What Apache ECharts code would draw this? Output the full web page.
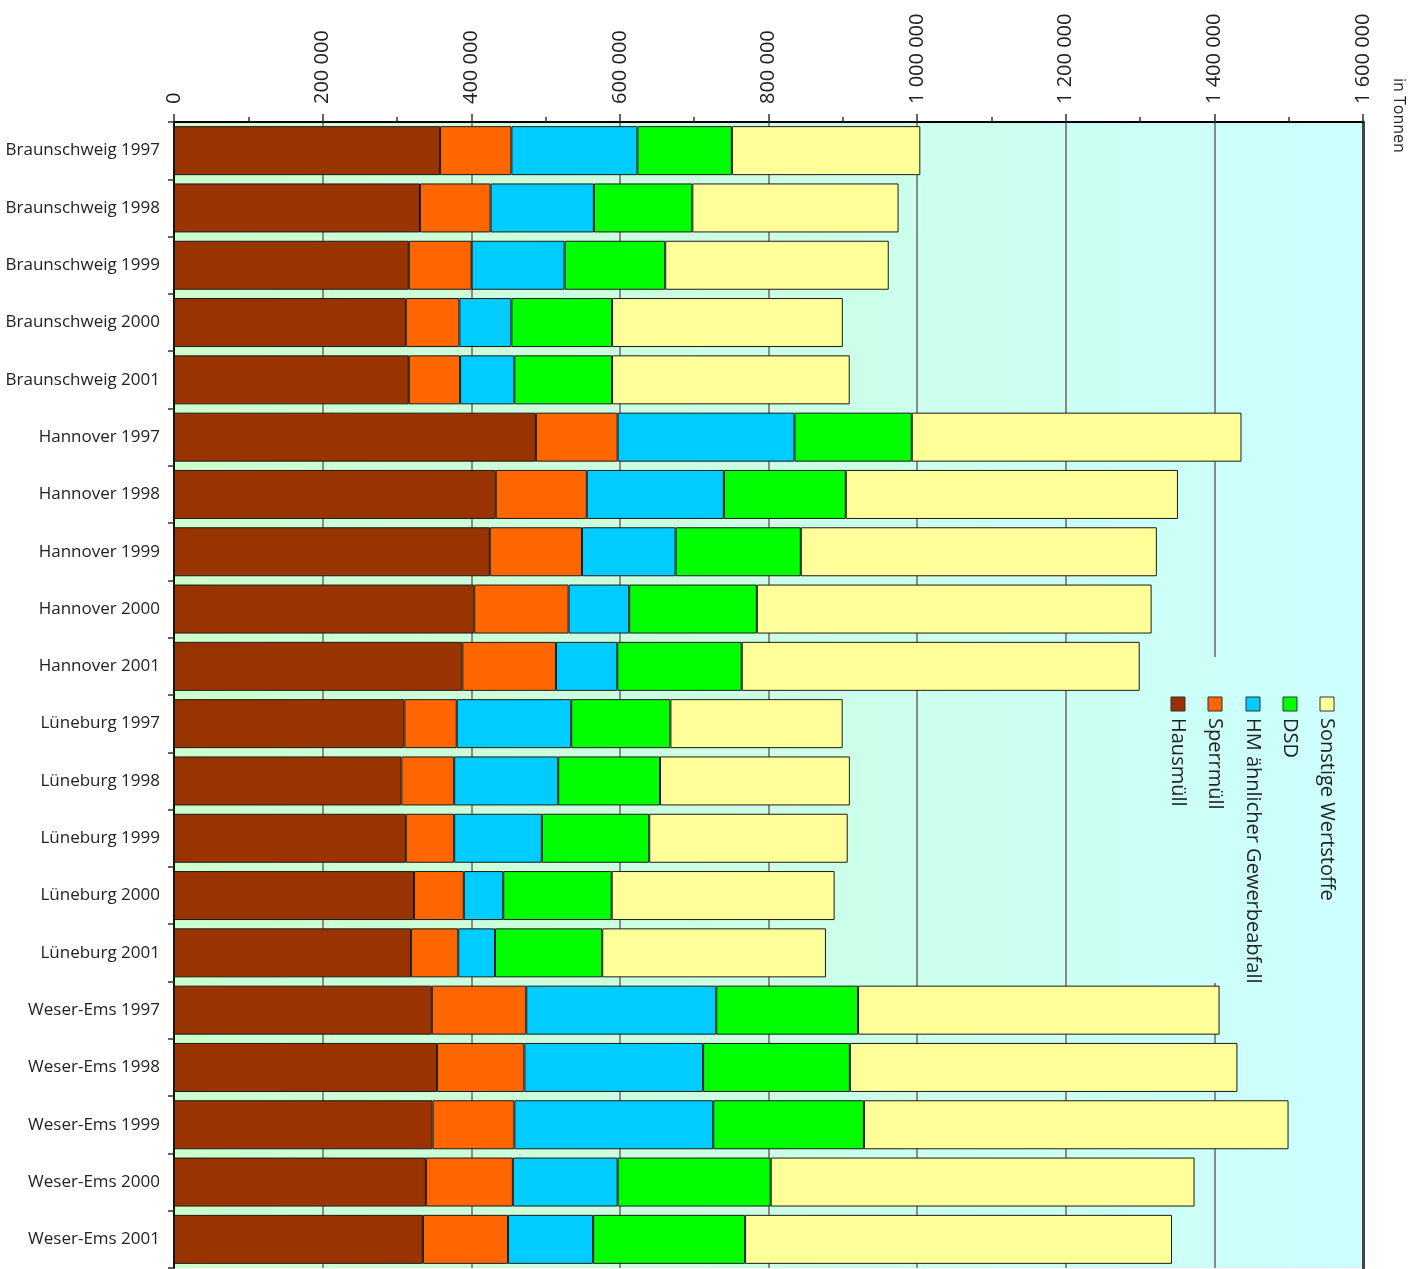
<!DOCTYPE html>
<html>
<head>
<meta charset="utf-8">
<script src="https://cdn.jsdelivr.net/npm/echarts@6/dist/echarts.min.js"></script>
<style>
html,body{margin:0;padding:0;background:#ffffff;}
#chart{width:1418px;height:1269px;}
</style>
</head>
<body>
<div id="chart"></div>
<script>
const categories = [
  'Braunschweig 1997','Braunschweig 1998','Braunschweig 1999','Braunschweig 2000','Braunschweig 2001',
  'Hannover 1997','Hannover 1998','Hannover 1999','Hannover 2000','Hannover 2001',
  'Lüneburg 1997','Lüneburg 1998','Lüneburg 1999','Lüneburg 2000','Lüneburg 2001',
  'Weser-Ems 1997','Weser-Ems 1998','Weser-Ems 1999','Weser-Ems 2000','Weser-Ems 2001'
];
const seriesNames = ['Hausmüll','Sperrmüll','HM ähnlicher Gewerbeabfall','DSD','Sonstige Wertstoffe'];
const seriesColors = ['#993300','#ff6600','#00ccff','#00ff00','#ffff99'];

const hausmuell = [358000,331000,316000,312000,316000,487000,433000,425000,404000,388000,310000,306000,312000,323000,319000,347000,354000,348000,339000,335000];
const sperrmuell = [96000,95000,84500,72000,69000,110000,122500,124000,127000,126000,70500,71000,65000,67000,63500,127000,117500,110000,117000,114500];
const gewerbe = [169600,139000,125100,70000,73000,238000,184500,126000,81500,82500,154000,140000,118000,53000,49500,255700,240500,267600,141000,114500];
const dsd = [127100,132500,135400,135500,131500,157800,164000,168500,171800,167500,133500,137000,144500,146000,144300,190800,197500,202800,206000,204500];
const sonstige = [253600,277500,300800,310500,319800,443700,447000,479100,531200,535500,231800,255500,267100,300000,301000,486500,521500,571400,570300,574500];

const seriesData = [hausmuell, sperrmuell, gewerbe, dsd, sonstige];
const xTicks = {min: 0, max: 1600000, interval: 200000};
const unitLabel = 'in Tonnen';

const FONT = "'Open Sans', 'Noto Sans', sans-serif";
const chart = echarts.init(document.getElementById('chart'), null, {renderer: 'canvas'});

const bgGradient = () => new echarts.graphic.LinearGradient(174, 0, 1363, 0, [
  {offset: 0, color: '#ccffcc'},
  {offset: 1, color: '#ccffff'}
], true);

function fmt(v) {
  return String(v).replace(/\B(?=(\d{3})+(?!\d))/g, ' ');
}

const legendX = [1178, 1215, 1253, 1290, 1327];
const graphics = [
  {type: 'rect', z: 1, shape: {x: 1160, y: 657, width: 190, height: 326}, style: {fill: bgGradient()}, silent: true},
  {type: 'text', z: 5, x: 1399, y: 78, rotation: -Math.PI / 2,
   style: {text: unitLabel, fill: '#222', font: '16px ' + FONT, textAlign: 'left', textVerticalAlign: 'middle'}}
];
seriesNames.forEach((name, i) => {
  graphics.push({type: 'rect', z: 5, shape: {x: legendX[i] - 7, y: 697, width: 14, height: 14},
    style: {fill: seriesColors[i], stroke: '#333', lineWidth: 1}});
  graphics.push({type: 'text', z: 5, x: legendX[i], y: 718, rotation: -Math.PI / 2,
    style: {text: name, fill: '#222', font: '20px ' + FONT, textAlign: 'left', textVerticalAlign: 'middle'}});
});

const option = {
  animation: false,
  backgroundColor: '#ffffff',
  textStyle: {fontFamily: FONT},
  grid: {
    left: 174, right: 55, top: 122, bottom: 1,
    show: true, backgroundColor: bgGradient(), borderWidth: 0
  },
  xAxis: {
    type: 'value', position: 'top',
    min: xTicks.min, max: xTicks.max, interval: xTicks.interval,
    axisLine: {show: true, lineStyle: {color: '#000', width: 2}},
    axisTick: {show: true, length: 8, lineStyle: {color: '#333', width: 1.5}},
    minorTick: {show: true, splitNumber: 2, length: 5, lineStyle: {color: '#333', width: 1.5}},
    splitLine: {show: true, lineStyle: {color: '#8a8a8a', width: 2}},
    axisLabel: {rotate: -90, margin: 18, fontSize: 20, color: '#222', fontFamily: FONT, formatter: fmt}
  },
  yAxis: [{
    type: 'category', data: categories, inverse: true,
    axisLine: {show: true, lineStyle: {color: '#111', width: 2}},
    axisTick: {show: true, length: 6, lineStyle: {color: '#333', width: 1.5}},
    axisLabel: {fontSize: 17, color: '#222', margin: 14, fontFamily: FONT}
  }, {
    type: 'category', data: categories, inverse: true, position: 'right',
    axisLine: {show: true, lineStyle: {color: '#444', width: 3}},
    axisTick: {show: false}, axisLabel: {show: false}
  }],
  graphic: {elements: graphics},
  series: seriesNames.map((name, i) => ({
    name: name, type: 'bar', stack: 'total', barWidth: 49,
    yAxisIndex: 0,
    data: seriesData[i],
    itemStyle: {color: seriesColors[i], borderColor: '#1a1a1a', borderWidth: 1}
  }))
};
chart.setOption(option);
</script>
</body>
</html>
